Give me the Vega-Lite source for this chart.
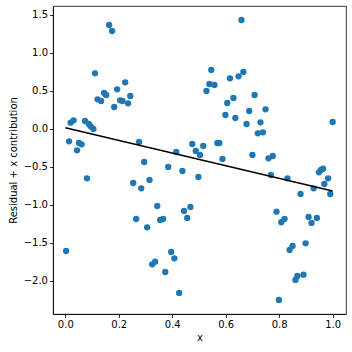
{
  "$schema": "https://vega.github.io/schema/vega-lite/v6.json",
  "autosize": {"type": "none"},
  "width": 293,
  "height": 308,
  "padding": {"left": 53, "top": 6, "right": 6, "bottom": 38},
  "background": "white",
  "config": {
    "view": {"stroke": "black", "strokeWidth": 0.8},
    "font": "DejaVu Sans",
    "axis": {
      "grid": false,
      "domainColor": "black",
      "domainWidth": 0.8,
      "tickColor": "black",
      "tickWidth": 0.8,
      "tickSize": 3.5,
      "labelFont": "DejaVu Sans",
      "labelFontSize": 10,
      "labelColor": "black",
      "labelPadding": 2,
      "titleFont": "DejaVu Sans",
      "titleFontSize": 10,
      "titleFontWeight": "normal",
      "titleColor": "black"
    }
  },
  "datasets": {
    "pts": [
      {"x": 0.003, "y": -1.610}, {"x": 0.014, "y": -0.167}, {"x": 0.020, "y": 0.079}, {"x": 0.031, "y": 0.110},
      {"x": 0.044, "y": -0.285}, {"x": 0.051, "y": -0.189}, {"x": 0.061, "y": -0.206}, {"x": 0.074, "y": 0.101},
      {"x": 0.081, "y": -0.654}, {"x": 0.088, "y": 0.061}, {"x": 0.095, "y": 0.031}, {"x": 0.105, "y": -0.004},
      {"x": 0.111, "y": 0.728}, {"x": 0.121, "y": 0.386}, {"x": 0.134, "y": 0.364}, {"x": 0.145, "y": 0.469},
      {"x": 0.153, "y": 0.443}, {"x": 0.164, "y": 1.364}, {"x": 0.175, "y": 1.285}, {"x": 0.183, "y": 0.285},
      {"x": 0.194, "y": 0.518}, {"x": 0.205, "y": 0.373}, {"x": 0.214, "y": 0.364}, {"x": 0.224, "y": 0.610},
      {"x": 0.235, "y": 0.333}, {"x": 0.243, "y": 0.430}, {"x": 0.254, "y": -0.715}, {"x": 0.265, "y": -1.189},
      {"x": 0.276, "y": -0.175}, {"x": 0.284, "y": -0.785}, {"x": 0.295, "y": -0.439}, {"x": 0.306, "y": -1.298},
      {"x": 0.315, "y": -0.675}, {"x": 0.325, "y": -1.785}, {"x": 0.336, "y": -1.750}, {"x": 0.344, "y": -1.018},
      {"x": 0.355, "y": -1.202}, {"x": 0.366, "y": -1.189}, {"x": 0.374, "y": -1.886}, {"x": 0.385, "y": -0.504},
      {"x": 0.396, "y": -1.623}, {"x": 0.408, "y": -1.706}, {"x": 0.415, "y": -0.307}, {"x": 0.426, "y": -2.162},
      {"x": 0.438, "y": -0.557}, {"x": 0.444, "y": -1.083}, {"x": 0.456, "y": -1.175}, {"x": 0.468, "y": -1.031},
      {"x": 0.475, "y": -0.202}, {"x": 0.488, "y": -0.294}, {"x": 0.498, "y": -0.636}, {"x": 0.504, "y": -0.346},
      {"x": 0.516, "y": -0.228}, {"x": 0.528, "y": 0.496}, {"x": 0.539, "y": 0.588}, {"x": 0.546, "y": 0.772},
      {"x": 0.558, "y": 0.575}, {"x": 0.569, "y": -0.189}, {"x": 0.576, "y": -0.189}, {"x": 0.588, "y": -0.399},
      {"x": 0.599, "y": 0.180}, {"x": 0.606, "y": 0.338}, {"x": 0.616, "y": 0.662}, {"x": 0.629, "y": 0.404},
      {"x": 0.636, "y": 0.140}, {"x": 0.648, "y": 0.689}, {"x": 0.659, "y": 1.430}, {"x": 0.666, "y": 0.746},
      {"x": 0.678, "y": 0.061}, {"x": 0.688, "y": 0.232}, {"x": 0.700, "y": -0.346}, {"x": 0.708, "y": 0.443},
      {"x": 0.720, "y": -0.061}, {"x": 0.730, "y": 0.083}, {"x": 0.739, "y": -0.048}, {"x": 0.749, "y": 0.254},
      {"x": 0.760, "y": -0.390}, {"x": 0.769, "y": -0.610}, {"x": 0.776, "y": -0.360}, {"x": 0.790, "y": -1.092},
      {"x": 0.808, "y": -1.232}, {"x": 0.820, "y": -1.189}, {"x": 0.831, "y": -0.654}, {"x": 0.839, "y": -1.596},
      {"x": 0.850, "y": -1.544}, {"x": 0.799, "y": -2.254}, {"x": 0.861, "y": -1.991}, {"x": 0.868, "y": -1.939},
      {"x": 0.880, "y": -0.860}, {"x": 0.891, "y": -1.921}, {"x": 0.899, "y": -1.509}, {"x": 0.910, "y": -1.162},
      {"x": 0.921, "y": -1.241}, {"x": 0.929, "y": -0.785}, {"x": 0.941, "y": -1.175}, {"x": 0.949, "y": -0.575},
      {"x": 0.956, "y": -0.544}, {"x": 0.964, "y": -0.526}, {"x": 0.969, "y": -0.728}, {"x": 0.983, "y": -0.654},
      {"x": 0.991, "y": -0.860}, {"x": 1.000, "y": 0.088}
    ],
    "fit": [
      {"x": 0.0, "y": 0.013},
      {"x": 1.0, "y": -0.82}
    ]
  },
  "layer": [
    {
      "data": {"name": "pts"},
      "mark": {"type": "circle", "size": 40, "color": "#1f77b4", "opacity": 1},
      "encoding": {
        "x": {
          "field": "x", "type": "quantitative",
          "scale": {"domain": [-0.046, 1.05], "nice": false, "zero": false},
          "axis": {"values": [0, 0.2, 0.4, 0.6, 0.8, 1.0], "format": ".1f", "title": "x", "titlePadding": 3}
        },
        "y": {
          "field": "y", "type": "quantitative",
          "scale": {"domain": [-2.439, 1.614], "nice": false, "zero": false},
          "axis": {"values": [-2.0, -1.5, -1.0, -0.5, 0.0, 0.5, 1.0, 1.5], "format": ".1f", "title": "Residual + x contribution", "titlePadding": 5}
        }
      }
    },
    {
      "data": {"name": "fit"},
      "mark": {"type": "line", "color": "black", "strokeWidth": 1.5},
      "encoding": {
        "x": {"field": "x", "type": "quantitative"},
        "y": {"field": "y", "type": "quantitative"}
      }
    }
  ]
}
